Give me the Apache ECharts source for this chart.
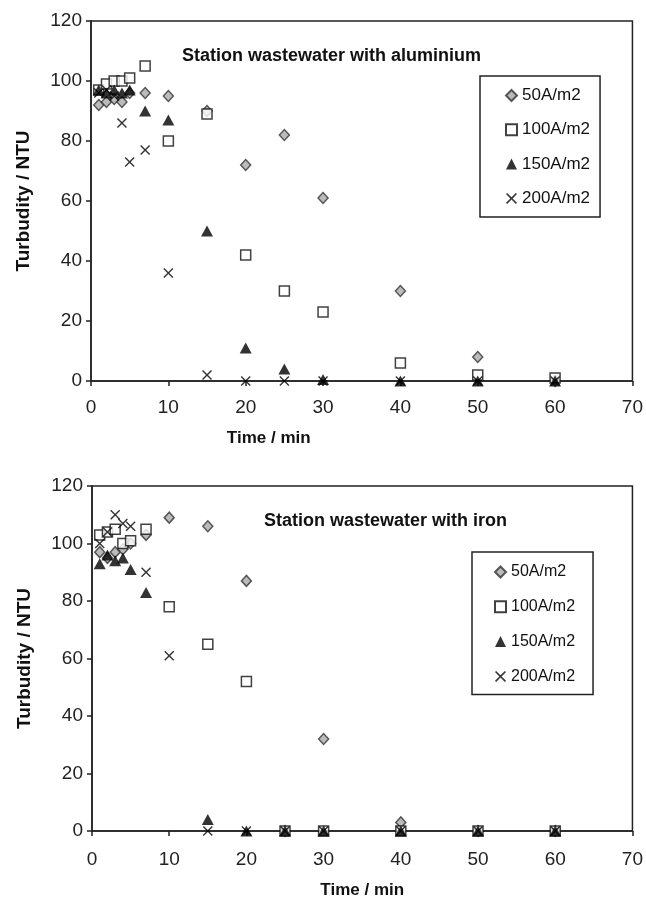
<!DOCTYPE html>
<html>
<head>
    <meta charset="utf-8">
    <title>Turbidity</title>
    <script src="https://cdn.jsdelivr.net/npm/echarts@6/dist/echarts.min.js" type="text/javascript"></script>
</head>
<body style="margin:0;background:#fff">
<div id="main" style="width:646px;height:900px;"></div>
<script type="text/javascript">

// sampling times (min)
var times = [1, 2, 3, 4, 5, 7, 10, 15, 20, 25, 30, 40, 50, 60];
var names = ['50A/m2', '100A/m2', '150A/m2', '200A/m2'];

// aluminium electrodes
var al50  = [92, 93, 94, 93, 96, 96, 95, 90, 72, 82, 61, 30, 8, 0];
var al100 = [97, 99, 100, 100, 101, 105, 80, 89, 42, 30, 23, 6, 2, 1];
var al150 = [97, 96, 97, 96, 97, 90, 87, 50, 11, 4, 0.5, 0, 0, 0];
var al200 = [96, 97, 95, 86, 73, 77, 36, 2, 0, 0, 0, 0, 0, 0];

// iron electrodes
var fe50  = [97, 95, 97, 98, 100, 103, 109, 106, 87, 0, 32, 3, 0, 0];
var fe100 = [103, 104, 105, 100, 101, 105, 78, 65, 52, 0, 0, 0, 0, 0];
var fe150 = [93, 96, 94, 95, 91, 83, null, 4, 0, 0, 0, 0, 0, 0];
var fe200 = [100, 104, 110, 107, 106, 90, 61, 0, 0, 0, 0, 0, 0, 0];

var FONT = "'Liberation Sans', Arial, sans-serif";
var crossPath = 'path://M0,1 L1,0 L5,4 L9,0 L10,1 L6,5 L10,9 L9,10 L5,6 L1,10 L0,9 L4,5 Z';

var looks = [
    {symbol: 'diamond', size: [10, 11], itemStyle: {color: '#aaa', borderColor: '#333', borderWidth: 1.5}},
    {symbol: 'rect', size: 10, itemStyle: {color: '#fff', borderColor: '#111', borderWidth: 1.5}},
    {symbol: 'triangle', size: [12, 11], itemStyle: {color: '#000'}},
    {symbol: crossPath, size: 10, itemStyle: {color: '#000'}}
];

function pairs(vals) {
    var out = [];
    for (var i = 0; i < times.length; i++) {
        if (vals[i] == null) continue;
        out.push([times[i], vals[i]]);
    }
    return out;
}

function makeSeries(sets, gi) {
    var s = [];
    for (var k = 0; k < sets.length; k++) {
        s.push({
            type: 'scatter',
            name: names[k],
            xAxisIndex: gi,
            yAxisIndex: gi,
            symbol: looks[k].symbol,
            symbolSize: looks[k].size,
            itemStyle: looks[k].itemStyle,
            emphasis: {disabled: true},
            data: pairs(sets[k])
        });
    }
    return s;
}

function xAx(gi, namePad, gap, lblMargin) {
    return {
        gridIndex: gi, type: 'value', min: 0, max: 70, interval: 10,
        name: 'Time / min', nameLocation: 'middle', nameGap: gap,
        nameTextStyle: {fontFamily: FONT, fontSize: 17, fontWeight: 'bold', color: '#111', padding: namePad},
        axisLine: {lineStyle: {color: '#222', width: 1.5}},
        axisTick: {show: true, inside: false, length: 5, lineStyle: {color: '#222', width: 1.5}},
        axisLabel: {fontFamily: FONT, fontSize: 19, color: '#222', margin: lblMargin},
        splitLine: {show: false}
    };
}

function yAx(gi) {
    return {
        gridIndex: gi, type: 'value', min: 0, max: 120, interval: 20,
        name: 'Turbudity / NTU', nameLocation: 'middle', nameGap: 58,
        nameTextStyle: {fontFamily: FONT, fontSize: 19, fontWeight: 'bold', color: '#111'},
        axisLine: {show: true, lineStyle: {color: '#222', width: 1.5}},
        axisTick: {show: true, inside: false, length: 5, lineStyle: {color: '#222', width: 1.5}},
        axisLabel: {fontFamily: FONT, fontSize: 19, color: '#222', margin: 9},
        splitLine: {show: false}
    };
}

function legendAt(left, top, pad, gap, fs) {
    return {
        orient: 'vertical', left: left, top: top, padding: pad, itemGap: gap,
        itemWidth: 11, itemHeight: 11,
        borderColor: '#222', borderWidth: 1.5,
        selectedMode: false,
        data: names,
        textStyle: {fontFamily: FONT, fontSize: fs, color: '#111', lineHeight: 16}
    };
}

var myChart = echarts.init(document.getElementById('main'));
var option = {
    animation: false,
    backgroundColor: '#fff',
    title: [
        {text: 'Station wastewater with aluminium', left: 177, top: 42,
         textStyle: {fontFamily: FONT, fontSize: 18, fontWeight: 'bold', color: '#111'}},
        {text: 'Station wastewater with iron', left: 259, top: 507,
         textStyle: {fontFamily: FONT, fontSize: 18, fontWeight: 'bold', color: '#111'}}
    ],
    legend: [
        legendAt(480, 76, [11, 10, 10, 25], 17.3, 17),
        legendAt(472, 552, [12, 18, 10, 22], 18.8, 16)
    ],
    grid: [
        {left: 91, top: 21, width: 544, height: 360, show: true, borderColor: '#222', borderWidth: 1.5},
        {left: 92, top: 486, width: 548, height: 348, show: true, borderColor: '#222', borderWidth: 1.5}
    ],
    xAxis: [xAx(0, [0, 186, 0, 0], 49, 17), xAx(1, [0, 0, 0, 0], 51, 19)],
    yAxis: [yAx(0), yAx(1)],
    series: makeSeries([al50, al100, al150, al200], 0).concat(makeSeries([fe50, fe100, fe150, fe200], 1))
};
myChart.setOption(option);
</script>
</body>
</html>
